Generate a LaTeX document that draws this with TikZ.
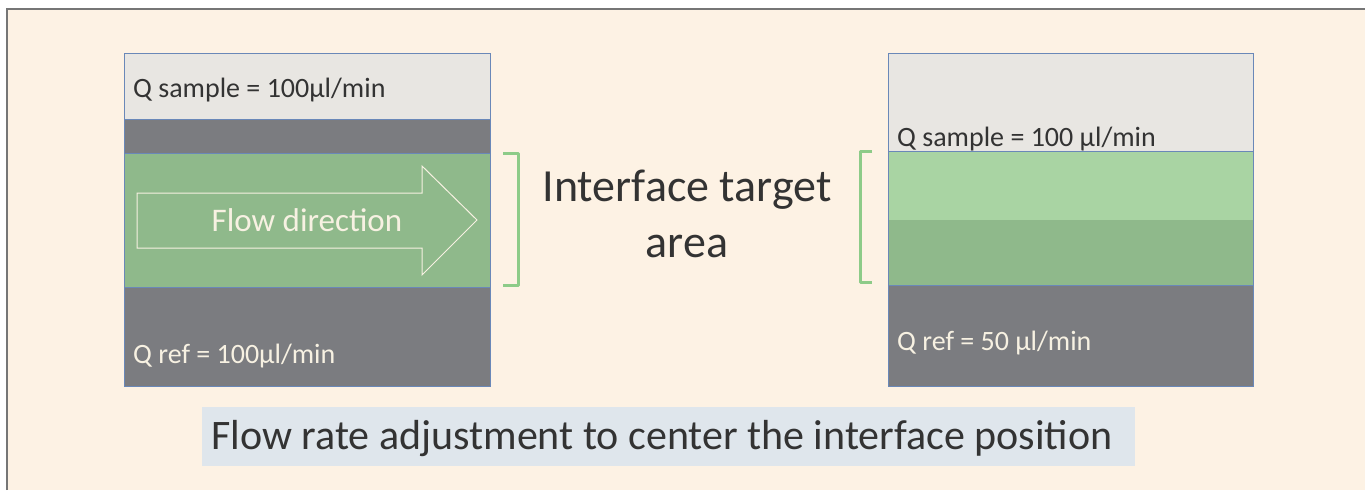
\documentclass[tikz,border=0pt]{standalone}
\usepackage{fontspec}
\setmainfont{Carlito}
\definecolor{cream}{HTML}{FDF2E4}
\definecolor{frame}{HTML}{767676}
\definecolor{sampleg}{HTML}{E8E6E2}
\definecolor{refg}{HTML}{7B7C80}
\definecolor{midg}{HTML}{8FB98B}
\definecolor{lightg}{HTML}{A9D4A3}
\definecolor{brack}{HTML}{8DCB88}
\definecolor{edge}{HTML}{6A88B8}
\definecolor{noteb}{HTML}{DFE6EC}
\definecolor{ink}{HTML}{333333}
\definecolor{paper}{HTML}{F7F1E2}
\tikzset{
  layer/.style={draw=edge, line width=0.8pt},
  bracketline/.style={draw=brack, line width=3pt, line join=round},
  label/.style={anchor=base west, inner sep=0pt, font=\fontsize{28}{32}\selectfont},
}
\begin{document}
\begin{tikzpicture}[x=1pt,y=-1pt]
\useasboundingbox (0,0) rectangle (1365,490);
\fill[white] (0,0) rectangle (1365,490);
\fill[cream] (7,9) rectangle (1365,490);
\draw[frame, line width=2pt] (7,490) -- (7,9) -- (1365,9);

% left channel
\fill[sampleg] (124,53) rectangle (490,119);
\fill[refg] (124,119) rectangle (490,153);
\fill[midg] (124,153) rectangle (490,287);
\fill[refg] (124,287) rectangle (490,386);
\draw[layer] (124,119) -- (490,119);
\draw[layer] (124,153) -- (490,153);
\draw[layer] (124,287) -- (490,287);
\draw[layer] (124,53) rectangle (490,386);
\draw[paper, line width=1pt, line join=miter]
  (137,193) -- (422,193) -- (422,166) -- (477,220) -- (422,275) -- (422,248) -- (137,248) -- cycle;
\node[anchor=base, inner sep=0pt, text=paper, font=\fontsize{33}{38}\selectfont] (flow) at (307,231) {Flow direction};
\node[label, text=ink] (qs1) at (133,97) {Q sample = 100µl/min};
\node[label, text=paper] (qr1) at (133,363) {Q ref = 100µl/min};

% brackets
\draw[bracketline] (503,153) -- (518,153) -- (518,285) -- (503,285);
\draw[bracketline] (872,151) -- (860,151) -- (860,282) -- (872,282);
\node[align=center, inner sep=0pt, text=ink, font=\fontsize{46}{56}\selectfont, anchor=base] (target) at (687,257) {Interface target\\area};

% right channel
\fill[sampleg] (888,53) rectangle (1253,151);
\fill[lightg] (888,151) rectangle (1253,220);
\fill[midg] (888,220) rectangle (1253,285);
\fill[refg] (888,285) rectangle (1253,386);
\draw[layer] (888,151) -- (1253,151);
\draw[layer] (888,285) -- (1253,285);
\draw[layer] (888,53) rectangle (1253,386);
\node[label, text=ink] (qs2) at (897,146) {Q sample = 100 µl/min};
\node[label, text=paper] (qr2) at (897,350) {Q ref = 50 µl/min};

% caption
\fill[noteb] (202,407) rectangle (1135,466);
\node[anchor=base west, inner sep=0pt, text=ink, font=\fontsize{42}{48}\selectfont] (caption) at (211,449) {Flow rate adjustment to center the interface position};
\end{tikzpicture}
\end{document}
